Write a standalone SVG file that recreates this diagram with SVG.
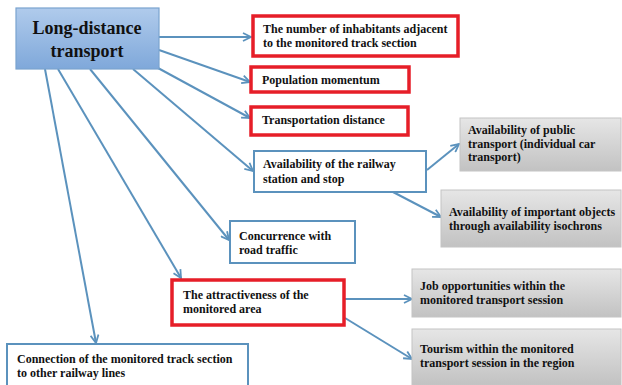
<svg xmlns="http://www.w3.org/2000/svg" width="622" height="385" viewBox="0 0 622 385">
  <defs>
    <linearGradient id="blueFill" x1="0" y1="0" x2="0" y2="1">
      <stop offset="0" stop-color="#b0cbec"/>
      <stop offset="1" stop-color="#7fa8da"/>
    </linearGradient>
    <linearGradient id="grayFill" x1="0" y1="0" x2="0" y2="1">
      <stop offset="0" stop-color="#e6e6e6"/>
      <stop offset="1" stop-color="#c2c2c2"/>
    </linearGradient>
    <marker id="arrow" viewBox="0 0 10 10" refX="9" refY="5" markerWidth="10" markerHeight="10" markerUnits="userSpaceOnUse" orient="auto">
      <path d="M1,1 L9,5 L1,9" fill="none" stroke="#5b92bd" stroke-width="1.8" stroke-linejoin="miter"/>
    </marker>
  </defs>
  <style>
    text { font-family: "Liberation Serif", "Times New Roman", serif; font-weight: bold; fill: #111; font-size: 12px; }
    .title { font-size: 18px; text-anchor: middle; }
    .red { fill: #fff; stroke: #e61e28; stroke-width: 3.5; }
    .blue { fill: #fff; stroke: #5b92bd; stroke-width: 2; }
    .gray { fill: url(#grayFill); stroke: #c4c4c4; stroke-width: 1; }
    .conn { fill: none; stroke: #5b92bd; stroke-width: 2; marker-end: url(#arrow); }
  </style>
  <rect width="622" height="385" fill="#fff"/>

  <g id="connectors">
    <line class="conn" x1="159" y1="37" x2="251" y2="37"/>
    <line class="conn" x1="159" y1="50" x2="250" y2="82"/>
    <line class="conn" x1="158" y1="68" x2="250" y2="118"/>
    <line class="conn" x1="133" y1="69" x2="253" y2="171"/>
    <line class="conn" x1="90" y1="69" x2="229" y2="240"/>
    <line class="conn" x1="58" y1="69" x2="181" y2="278"/>
    <line class="conn" x1="45" y1="69" x2="96" y2="343"/>
    <line class="conn" x1="427" y1="170" x2="459" y2="144"/>
    <line class="conn" x1="393" y1="192" x2="441" y2="217"/>
    <line class="conn" x1="345" y1="299" x2="412" y2="299"/>
    <line class="conn" x1="345" y1="318" x2="412" y2="359"/>
  </g>

  <g id="long-distance">
    <rect x="16" y="8" width="143" height="61" fill="url(#blueFill)" stroke="#7aa3cf" stroke-width="1.2"/>
    <text class="title" x="87" y="34">Long-distance</text>
    <text class="title" x="87" y="57">transport</text>
  </g>

  <g id="inhabitants">
    <rect class="red" x="253" y="16" width="205" height="40"/>
    <text x="263" y="33">The number of inhabitants adjacent</text>
    <text x="263" y="47">to the monitored track section</text>
  </g>

  <g id="population">
    <rect class="red" x="251" y="67" width="158" height="25"/>
    <text x="262" y="84">Population momentum</text>
  </g>

  <g id="distance">
    <rect class="red" x="251" y="107" width="157" height="28"/>
    <text x="262" y="124">Transportation distance</text>
  </g>

  <g id="railway-station">
    <rect class="blue" x="254" y="151" width="172" height="41"/>
    <text x="263" y="168">Availability of the railway</text>
    <text x="263" y="183">station and stop</text>
  </g>

  <g id="public-transport">
    <rect class="gray" x="460" y="118" width="161" height="53"/>
    <text x="468" y="134">Availability of public</text>
    <text x="468" y="148">transport (individual car</text>
    <text x="468" y="161">transport)</text>
  </g>

  <g id="important-objects">
    <rect class="gray" x="441" y="190" width="180" height="57"/>
    <text x="449" y="216">Availability of important objects</text>
    <text x="449" y="230">through availability isochrons</text>
  </g>

  <g id="concurrence">
    <rect class="blue" x="230" y="221" width="125" height="42"/>
    <text x="239" y="240">Concurrence with</text>
    <text x="239" y="254">road traffic</text>
  </g>

  <g id="attractiveness">
    <rect class="red" x="172" y="280" width="172" height="45"/>
    <text x="183" y="299">The attractiveness of the</text>
    <text x="183" y="313">monitored area</text>
  </g>

  <g id="job-opportunities">
    <rect class="gray" x="412" y="269" width="209" height="48"/>
    <text x="420" y="290">Job opportunities within the</text>
    <text x="420" y="304">monitored transport session</text>
  </g>

  <g id="tourism">
    <rect class="gray" x="412" y="329" width="209" height="56"/>
    <text x="420" y="353">Tourism within the monitored</text>
    <text x="420" y="367">transport session in the region</text>
  </g>

  <g id="connection">
    <rect class="blue" x="7" y="344" width="241" height="45"/>
    <text x="17" y="363">Connection of the monitored track section</text>
    <text x="17" y="377">to other railway lines</text>
  </g>
</svg>
